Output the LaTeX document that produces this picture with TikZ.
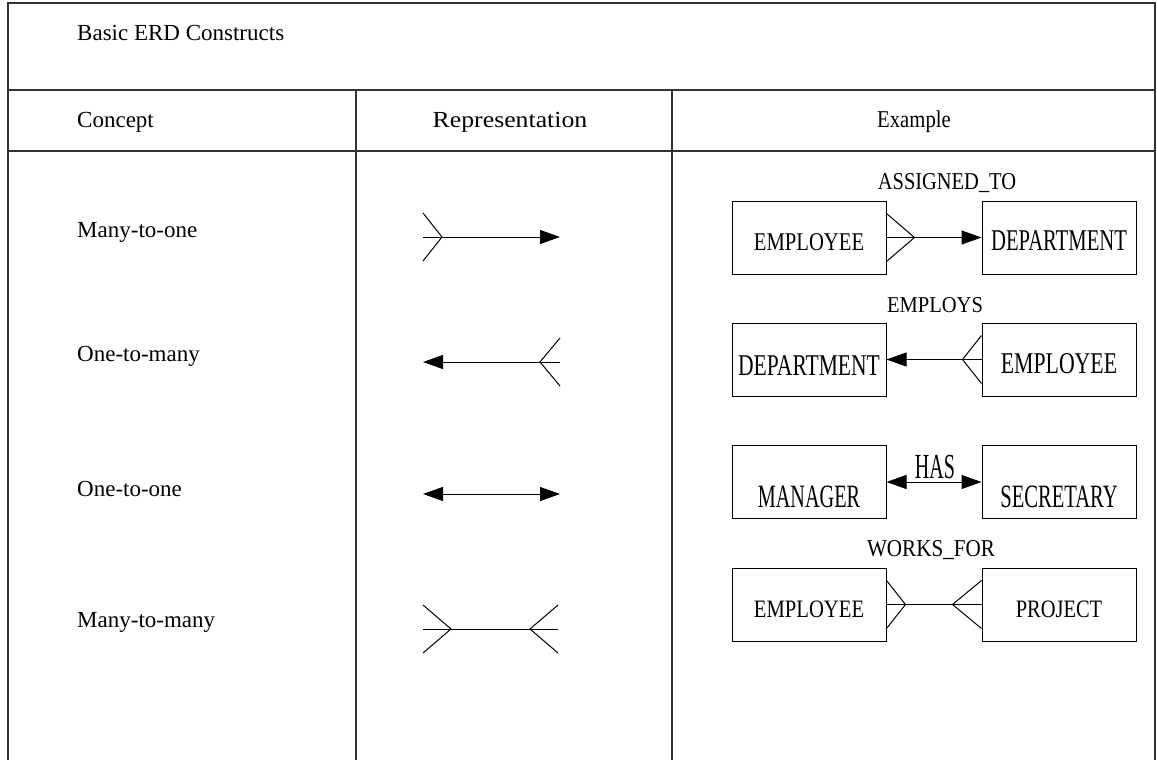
\documentclass[tikz,border=0pt]{standalone}
\usepackage{fontspec}
\setmainfont{Liberation Serif}
\usetikzlibrary{arrows.meta,calc}
% text inside the entity boxes: lowered by #1pt, stretched by #2 x #3
\newcommand{\boxtxt}[4]{\raisebox{-#1pt}[0pt][0pt]{\scalebox{#2}[#3]{#4}}}
\begin{document}
\begin{tikzpicture}[x=1pt,y=-1pt,
  rule/.style={line width=1.2pt, draw=black!80},
  lbl/.style={font=\fontsize{23}{26}\selectfont, inner sep=0pt},
  reltxt/.style={font=\fontsize{22}{24}\selectfont, inner sep=0pt, anchor=base},
  ent/.style={draw, line width=1pt, minimum width=154pt, minimum height=73pt,
    inner sep=0pt, font=\fontsize{22}{24}\selectfont},
  link/.style={line width=1pt},
  tip/.style={-{Triangle[length=20pt,width=14pt]}},
  tips/.style={{Triangle[length=20pt,width=14pt]}-{Triangle[length=20pt,width=14pt]}},
  tipl/.style={{Triangle[length=20pt,width=14pt]}-},
]
\useasboundingbox (0,0) rectangle (1157,760);
\clip (0,0) rectangle (1157,760);

% table frame
\draw[rule] (8,790) -- (8,3) -- (1155,3) -- (1155,790);
\draw[rule] (8,90) -- (1155,90);
\draw[rule] (8,151) -- (1155,151);
\draw[rule] (356,90) -- (356,790);
\draw[rule] (672,90) -- (672,790);

% headings
\node[lbl, anchor=base west] (title) at (77,41) {Basic ERD Constructs};
\node[lbl, anchor=base west] (hconcept) at (77,127) {Concept};
\node[lbl, anchor=base] (hrep) at (510,127) {\scalebox{1.12}[1]{Representation}};
\node[lbl, anchor=base] (hex) at (914,127) {\scalebox{0.9}[1.05]{Example}};

% concept names
\node[lbl, anchor=base west] (c1) at (77,237) {Many-to-one};
\node[lbl, anchor=base west] (c2) at (77,361) {One-to-many};
\node[lbl, anchor=base west] (c3) at (77,496) {One-to-one};
\node[lbl, anchor=base west] (c4) at (77,627) {Many-to-many};

% representation symbols
\coordinate (r1a) at (423,237); \coordinate (r1b) at (560,237);
\draw[link, tip] (r1a) -- (r1b);
\draw[link] ($(r1a)+(0,-24)$) -- ($(r1a)+(19,0)$) -- ($(r1a)+(0,24)$);

\coordinate (r2a) at (423,362); \coordinate (r2b) at (560,362);
\draw[link, tipl] (r2a) -- (r2b);
\draw[link] ($(r2b)+(0,-24)$) -- ($(r2b)+(-20,0)$) -- ($(r2b)+(0,24)$);

\coordinate (r3a) at (423,494); \coordinate (r3b) at (560,494);
\draw[link, tips] (r3a) -- (r3b);

\coordinate (r4a) at (423,629); \coordinate (r4b) at (558,629);
\draw[link] (r4a) -- (r4b);
\draw[link] ($(r4a)+(0,-24)$) -- ($(r4a)+(28,0)$) -- ($(r4a)+(0,24)$);
\draw[link] ($(r4b)+(0,-24)$) -- ($(r4b)+(-28,0)$) -- ($(r4b)+(0,24)$);

% examples
\node[ent] (e1) at (809,237.5) {\boxtxt{12.5}{0.94}{1.16}{EMPLOYEE}};
\node[ent] (d1) at (1059,237.5) {\boxtxt{12.5}{0.94}{1.37}{DEPARTMENT}};
\node[reltxt] (l1) at (947,189) {\scalebox{0.93}[1.1]{ASSIGNED\_TO}};
\draw[link, tip] (e1.east) -- (d1.west);
\draw[link] ($(e1.east)+(0,-24)$) -- ($(e1.east)+(28,0)$) -- ($(e1.east)+(0,24)$);

\node[ent] (d2) at (809,359.5) {\boxtxt{15.5}{0.98}{1.37}{DEPARTMENT}};
\node[ent] (e2) at (1059,359.5) {\boxtxt{13.5}{0.99}{1.37}{EMPLOYEE}};
\node[reltxt] (l2) at (935,312) {\scalebox{0.935}[1.03]{EMPLOYS}};
\draw[link, tip] (e2.west) -- (d2.east);
\draw[link] ($(e2.west)+(0,-24)$) -- ($(e2.west)+(-19,0)$) -- ($(e2.west)+(0,24)$);

\node[ent] (m) at (809,482) {\boxtxt{25}{0.92}{1.48}{MANAGER}};
\node[ent] (s) at (1059,482) {\boxtxt{25}{0.935}{1.48}{SECRETARY}};
\node[reltxt] (l3) at (935,478) {\scalebox{0.91}[1.6]{HAS}};
\draw[link, tips] (m.east) -- (s.west);

\node[ent] (e3) at (809,604.5) {\boxtxt{12.5}{0.94}{1.14}{EMPLOYEE}};
\node[ent] (p) at (1059,604.5) {\boxtxt{12.5}{0.93}{1.14}{PROJECT}};
\node[reltxt] (l4) at (931,556) {\scalebox{0.96}[1.1]{WORKS\_FOR}};
\draw[link] (e3.east) -- (p.west);
\draw[link] ($(e3.east)+(0,-24)$) -- ($(e3.east)+(19,0)$) -- ($(e3.east)+(0,24)$);
\draw[link] ($(p.west)+(0,-24)$) -- ($(p.west)+(-29,0)$) -- ($(p.west)+(0,24)$);
\end{tikzpicture}
\end{document}
